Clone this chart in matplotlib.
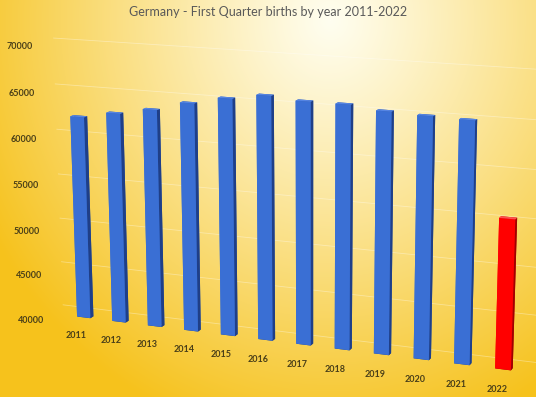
import numpy as np
import matplotlib
matplotlib.use("Agg")
import matplotlib.pyplot as plt
from matplotlib.colors import to_rgb

years = ["2011", "2012", "2013", "2014", "2015", "2016",
         "2017", "2018", "2019", "2020", "2021", "2022"]
births = [62300, 63000, 63700, 64700, 65500, 66100,
          65800, 65800, 65400, 65250, 65150, 55600]
z_ticks = [40000, 45000, 50000, 55000, 60000, 65000, 70000]
title = "Germany - First Quarter births by year 2011-2022"

W, H = 536, 397
fig = plt.figure(figsize=(W / 100, H / 100), dpi=100)

# background gradient
bg = fig.add_axes([0, 0, 1, 1])
yy, xx = np.mgrid[0:H, 0:W]
d = np.sqrt(((xx - 330) / 390.0) ** 2 + ((yy - 20) / 430.0) ** 2)
t = np.clip(d, 0, 1) ** 1.1
c0 = np.array(to_rgb("#fffef0"))
c1 = np.array(to_rgb("#f6c21c"))
img = c0[None, None, :] * (1 - t[..., None]) + c1[None, None, :] * t[..., None]
bg.imshow(img, extent=[0, W, H, 0], aspect="auto")
bg.set_axis_off()

S = 600.0
cx, cy = 303.0, 214.0
ax = fig.add_axes([(cx - S / 2) / W, (H - cy - S / 2) / H, S / W, S / H],
                  projection="3d")
ax.patch.set_alpha(0)
ax.set_proj_type("persp", focal_length=0.56)
ax.view_init(elev=14.4, azim=-69)
ax.set_box_aspect((15.4, 1.5, 7), zoom=1.155)

n = len(births)
xs = np.arange(n)
dx, dy = 0.38, 0.22
base = z_ticks[0]
blue = ["#1c3c80", "#5585e4", "#3a6fd4", "#2a55a8", "#3a6fd4", "#1f3f88"]
red = ["#900000", "#ff5050", "#ff0000", "#c00000", "#ff0000", "#a00000"]
for i in range(n):
    fc = red if i == n - 1 else blue
    ax.bar3d([xs[i] - dx / 2], [0.0], [base], dx, dy, [births[i] - base],
             color=fc, shade=False, edgecolor="none")

# faint gridlines on back wall
for z in z_ticks:
    ax.plot([-1.0, n - 0.4], [1.0, 1.0], [z, z], color="white", lw=0.6, alpha=0.35)

ax.set_xlim(-1.5, 13.9)
ax.set_ylim(-1.0, 1.0)
ax.set_zlim(z_ticks[0], z_ticks[-1])
ax.set_axis_off()

# project label anchor points with the axes' own projection, then place 2D text
fig.canvas.draw()
M = ax.M


def to_fig(x, y, z):
    v = M @ np.array([x, y, z, 1.0])
    p = ax.transData.transform((v[0] / v[3], v[1] / v[3]))
    return p[0] / W, p[1] / H


tc = "#4a3f18"
for z in z_ticks:
    fx, fy = to_fig(-1.15, -0.9, z)
    fig.text(fx, fy, str(z), fontsize=6.5, fontweight="bold", color=tc,
             ha="center", va="center", family="Lato")
for i, y in enumerate(years):
    fx, fy = to_fig(i, -0.6, base - 1500)
    fig.text(fx, fy, y, fontsize=6.5, fontweight="bold", color=tc,
             ha="center", va="center", family="Lato")

fig.text(0.5, 1 - 12 / H, title, ha="center", va="center", fontsize=9.0,
         color="#595959", family="Lato")

fig.savefig("out.png", dpi=100)
